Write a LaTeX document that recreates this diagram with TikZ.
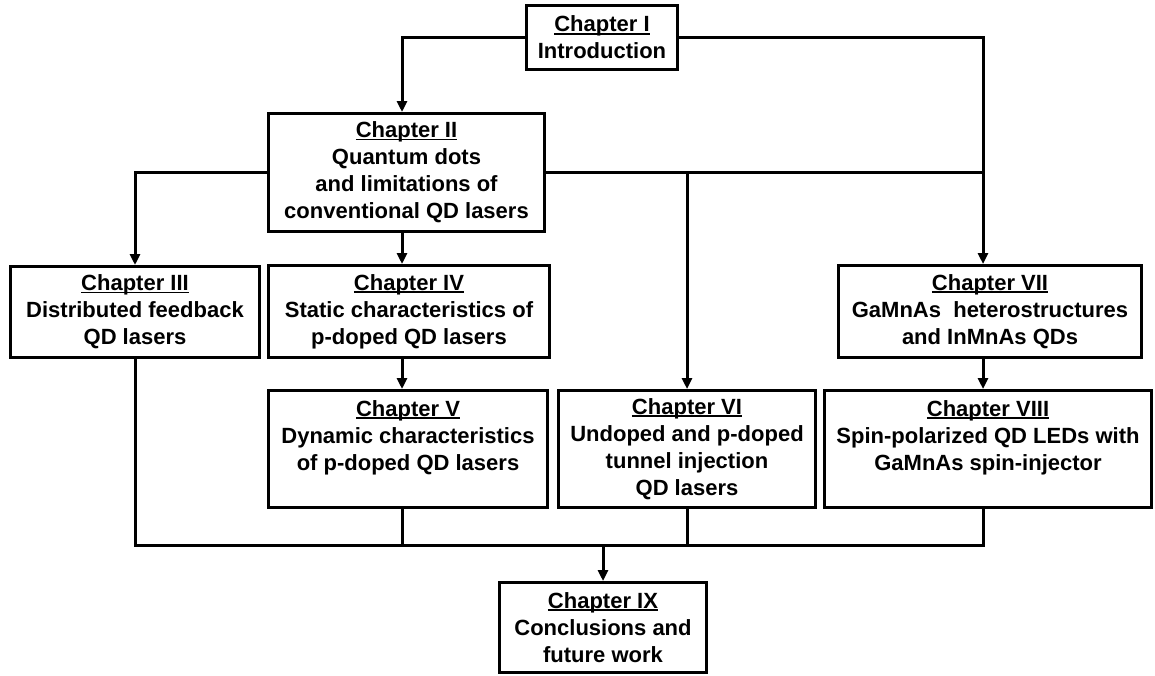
\documentclass[tikz,border=0pt]{standalone}
\usepackage{fontspec}
\setmainfont{Liberation Sans}
\usepackage{tikz}
\usetikzlibrary{arrows.meta}

\newcommand{\chaphead}[1]{\setbox0\hbox{#1}\rlap{\rule[-0.12em]{\wd0}{0.085em}}\box0}

\tikzset{
  chapbox/.style={draw, line width=3pt, align=center, inner sep=0pt,
    font=\bfseries\fontsize{22}{27}\selectfont},
  plain/.style={line width=3pt},
  link/.style={line width=3pt, -{Triangle[length=11pt,width=10pt]}}
}

\begin{document}
\begin{tikzpicture}[x=1pt,y=-1pt]
\useasboundingbox (0,0) rectangle (1155,675);

\coordinate (col) at (402,0);
\coordinate (rcol) at (983,0);
\coordinate (bus) at (0,545);

\node[chapbox, minimum width=151, minimum height=64] (ch1) at (602,37.5)
  {\chaphead{Chapter I}\\Introduction};
\node[chapbox, minimum width=276, minimum height=118] (ch2) at (406.5,172.5)
  {\chaphead{Chapter II}\\Quantum dots\\and limitations of\\conventional QD lasers};
\node[chapbox, minimum width=249, minimum height=91] (ch3) at (135,312)
  {\chaphead{Chapter III}\\Distributed feedback\\QD lasers};
\node[chapbox, minimum width=281, minimum height=92] (ch4) at (409,311.5)
  {\chaphead{Chapter IV}\\Static characteristics of\\p-doped QD lasers};
\node[chapbox, minimum width=279, minimum height=117] (ch5) at (408,449)
  {\chaphead{Chapter V}\\Dynamic characteristics\\of p-doped QD lasers\\\mbox{}};
\node[chapbox, minimum width=257, minimum height=117] (ch6) at (687,449)
  {\chaphead{Chapter VI}\\Undoped and p-doped\\tunnel injection\\QD lasers};
\node[chapbox, minimum width=303, minimum height=92] (ch7) at (990,311.5)
  {\chaphead{Chapter VII}\\GaMnAs\ \ heterostructures\\and InMnAs QDs};
\node[chapbox, minimum width=327, minimum height=117] (ch8) at (988,449)
  {\chaphead{Chapter VIII}\\Spin-polarized QD LEDs with\\GaMnAs spin-injector\\\mbox{}};
\node[chapbox, minimum width=207, minimum height=90] (ch9) at (603,627.5)
  {\chaphead{Chapter IX}\\Conclusions and\\future work};

\draw[link] (ch1.west) -| (ch2.north -| col);
\draw[link] (ch1.east) -| (ch7.north -| rcol);
\draw[plain] (ch2.east) -- (ch2.east -| rcol);
\draw[link] (ch2.west) -| (ch3.north);
\draw[link] (ch2.east -| ch6.north) -- (ch6.north);
\draw[link] (ch2.south -| col) -- (ch4.north -| col);
\draw[link] (ch4.south -| col) -- (ch5.north -| col);
\draw[link] (ch7.south -| rcol) -- (ch8.north -| rcol);

\draw[plain] (ch3.south) -- (ch3.south |- bus) -- (bus -| rcol) -- (ch8.south -| rcol);
\draw[plain] (ch5.south -| col) -- (bus -| col);
\draw[plain] (ch6.south) -- (ch6.south |- bus);
\draw[link] (ch9.north |- bus) -- (ch9.north);
\end{tikzpicture}
\end{document}
